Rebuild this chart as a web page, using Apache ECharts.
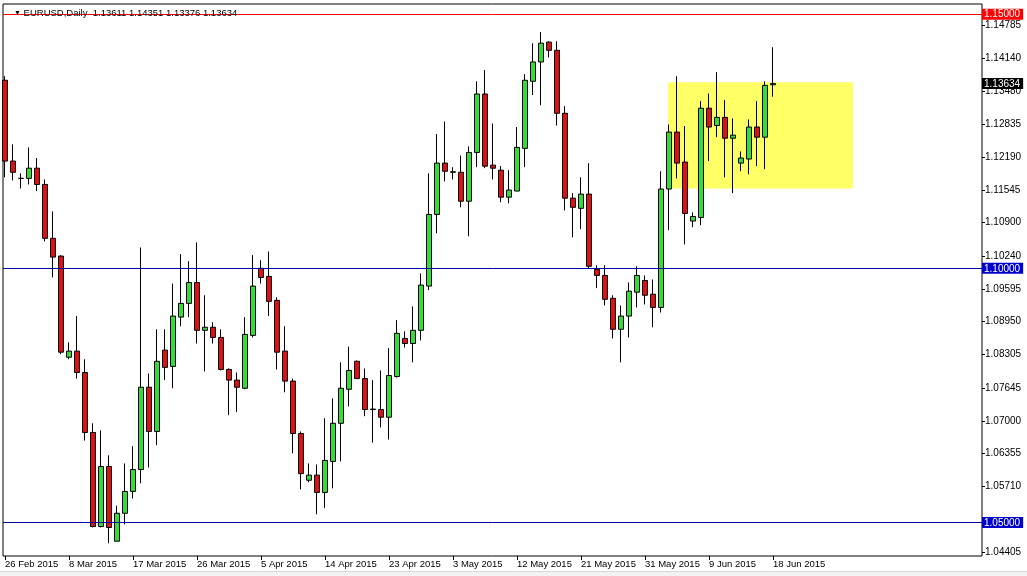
<!DOCTYPE html>
<html><head><meta charset="utf-8">
<script src="https://cdn.jsdelivr.net/npm/echarts@6/dist/echarts.min.js"></script>
<style>html,body{margin:0;padding:0;background:#fff;overflow:hidden}#c{width:1027px;height:576px}</style>
</head><body><div id="c"></div>
<script>
// ---- data ----
const symbolTitle = 'EURUSD,Daily';
const opens = [1.1370,1.1211,1.1177,1.1177,1.1197,1.1165,1.1059,1.1024,1.0825,1.0837,
1.0795,1.0677,1.0492,1.0610,1.0463,1.0518,1.0561,1.0604,1.0766,1.0679,
1.0839,1.0807,1.0904,1.0931,1.0972,1.0878,1.0884,1.0864,1.0801,1.0780,
1.0764,1.0868,1.1000,1.0984,1.0937,1.0837,1.0778,1.0675,1.0583,1.0593,
1.0559,1.0620,1.0695,1.0762,1.0817,1.0783,1.0722,1.0722,1.0707,1.0787,
1.0862,1.0852,1.0878,1.0965,1.1106,1.1207,1.1189,1.1189,1.1132,1.1228,
1.1343,1.1203,1.1193,1.1140,1.1152,1.1236,1.1368,1.1406,1.1445,1.1429,
1.1305,1.1138,1.1118,1.1146,1.0998,1.0986,1.0941,1.0880,1.0906,1.0953,
1.0976,1.0949,1.0923,1.1156,1.1268,1.1209,1.1093,1.1100,1.1315,1.1281,
1.1297,1.1256,1.1207,1.1215,1.1278,1.1258,1.13611];
const highs = [1.1378,1.1244,1.1187,1.1238,1.1217,1.1175,1.1112,1.1026,1.0854,1.0906,
1.0821,1.0695,1.0681,1.0632,1.0533,1.0616,1.0650,1.1041,1.0793,1.0880,
1.0880,1.0970,1.1028,1.1014,1.1051,1.0947,1.0894,1.0880,1.0803,1.0795,
1.0904,1.1026,1.1016,1.1033,1.0943,1.0886,1.0783,1.0679,1.0616,1.0614,
1.0705,1.0744,1.0815,1.0846,1.0819,1.0803,1.0780,1.0799,1.0843,1.0898,
1.0876,1.0925,1.0990,1.1187,1.1264,1.1289,1.1199,1.1222,1.1240,1.1368,
1.1390,1.1285,1.1201,1.1193,1.1278,1.1382,1.1443,1.1465,1.1447,1.1447,
1.1319,1.1148,1.1179,1.1207,1.1006,1.1006,1.0947,1.0927,1.0972,1.1004,
1.0986,1.0978,1.1191,1.1283,1.1378,1.1280,1.1110,1.1329,1.1344,1.1386,
1.1331,1.1295,1.1230,1.1293,1.1329,1.1368,1.14351];
const lows = [1.1179,1.1173,1.1157,1.1165,1.1152,1.1053,1.0982,1.0831,1.0821,1.0783,
1.0661,1.0490,1.0490,1.0459,1.0463,1.0496,1.0547,1.0577,1.0608,1.0652,
1.0780,1.0764,1.0886,1.0904,1.0852,1.0797,1.0852,1.0799,1.0711,1.0717,
1.0762,1.0864,1.0970,1.0906,1.0801,1.0756,1.0636,1.0565,1.0579,1.0516,
1.0528,1.0567,1.0620,1.0728,1.0783,1.0709,1.0657,1.0687,1.0663,1.0785,
1.0844,1.0815,1.0858,1.0957,1.1069,1.1171,1.1175,1.1120,1.1063,1.1199,
1.1197,1.1175,1.1130,1.1128,1.1152,1.1199,1.1341,1.1321,1.1415,1.1281,
1.1114,1.1061,1.1077,1.1000,1.0961,1.0927,1.0862,1.0815,1.0864,1.0923,
1.0929,1.0884,1.0913,1.1075,1.1177,1.1047,1.1081,1.1085,1.1211,1.1258,
1.1179,1.1148,1.1191,1.1185,1.1201,1.1195,1.13376];
const closes = [1.1211,1.1189,1.1177,1.1197,1.1165,1.1059,1.1022,1.0835,1.0837,1.0795,
1.0677,1.0492,1.0610,1.0490,1.0518,1.0561,1.0604,1.0766,1.0679,1.0817,
1.0805,1.0906,1.0931,1.0972,1.0878,1.0884,1.0864,1.0801,1.0780,1.0766,
1.0870,1.0965,1.0982,1.0935,1.0835,1.0778,1.0675,1.0596,1.0593,1.0559,
1.0622,1.0695,1.0764,1.0799,1.0783,1.0722,1.0723,1.0707,1.0789,1.0872,
1.0852,1.0878,1.0967,1.1106,1.1207,1.1191,1.1190,1.1132,1.1228,1.1343,
1.1201,1.1197,1.1140,1.1154,1.1238,1.1370,1.1406,1.1443,1.1429,1.1305,
1.1138,1.1120,1.1146,1.1004,1.0986,1.0939,1.0880,1.0906,1.0955,1.0986,
1.0947,1.0923,1.1156,1.1268,1.1207,1.1108,1.1102,1.1315,1.1278,1.1297,
1.1256,1.1262,1.1217,1.1278,1.1258,1.1360,1.13634];
const dateTickLabels = ['26 Feb 2015','8 Mar 2015','17 Mar 2015','26 Mar 2015','5 Apr 2015',
'14 Apr 2015','23 Apr 2015','3 May 2015','12 May 2015','21 May 2015','31 May 2015','9 Jun 2015','18 Jun 2015'];
const barsPerDateTick = 8;
const priceTicks = [1.14785,1.14140,1.13480,1.12835,1.12190,1.11545,1.10900,1.10240,
1.09595,1.08950,1.08305,1.07645,1.07000,1.06355,1.05710,1.04405];
const redLevels = [1.15];
const blueLevels = [1.10, 1.05];
const zoneBars = [82.875, 106];
const zonePrices = [1.1366, 1.1157];

// ---- chart ----
const FONT = "'Liberation Sans', Arial, sans-serif";
const candles = opens.map((o, i) => [i, o, closes[i], lows[i], highs[i]]);
const last = opens.length - 1;
const lastClose = closes[last];
const specials = [
  ...redLevels.map(v => ({v, s: 'red'})),
  ...blueLevels.map(v => ({v, s: 'blue'})),
  {v: lastClose, s: 'cur'}
];
const dateTickValues = dateTickLabels.map((_, k) => k * barsPerDateTick);

const chart = echarts.init(document.getElementById('c'), null, {renderer: 'canvas'});
chart.setOption({
  animation: false,
  backgroundColor: '#fff',
  title: {
    text: '{t|▼} ' + symbolTitle + '  ' + [opens[last], highs[last], lows[last], closes[last]].map(v => v.toFixed(5)).join(' '),
    left: 9, top: 3,
    textStyle: {
      fontFamily: FONT, fontSize: 9.5, fontWeight: 'normal', color: '#000',
      rich: {t: {fontSize: 7, color: '#000'}}
    }
  },
  graphic: [
    {type: 'rect', silent: true, z: -1, shape: {x: 0, y: 571, width: 1027, height: 5}, style: {fill: '#f2f2f2'}},
    {type: 'line', silent: true, z: -1, shape: {x1: 0, y1: 571.5, x2: 1027, y2: 571.5}, style: {stroke: '#d9d9d9', lineWidth: 1}}
  ],
  grid: {
    left: 3, right: 45, top: 4, bottom: 20,
    show: true, borderColor: '#000', borderWidth: 1, backgroundColor: '#fff'
  },
  xAxis: {
    type: 'value', min: -0.25, max: 122.125,
    axisLine: {show: false, onZero: false},
    splitLine: {show: false},
    axisTick: {show: true, customValues: dateTickValues, length: 4, lineStyle: {color: '#000'}},
    axisLabel: {
      customValues: dateTickValues, align: 'left', margin: 3,
      fontFamily: FONT, fontSize: 9.5, color: '#000',
      formatter: v => dateTickLabels[Math.round(v / barsPerDateTick)] || ''
    }
  },
  yAxis: {
    type: 'value', position: 'right', min: 1.043389, max: 1.152007, scale: true,
    axisLine: {show: false, onZero: false},
    splitLine: {show: false},
    axisTick: {show: true, customValues: priceTicks, length: 3, lineStyle: {color: '#000'}},
    axisLabel: {
      customValues: [...priceTicks, ...specials.map(s => s.v)],
      margin: 0, fontFamily: FONT, fontSize: 10, color: '#000',
      formatter: v => {
        const sp = specials.find(s => Math.abs(s.v - v) < 1e-7);
        return '{' + (sp ? sp.s : 'n') + '|' + v.toFixed(5) + '}';
      },
      rich: {
        n: {color: '#000', fontFamily: FONT, fontSize: 10, padding: [0, 0, 0, 3]},
        red: {color: '#fff', backgroundColor: '#ff0000', fontFamily: FONT, fontSize: 10, padding: [1, 3, 0, 2]},
        blue: {color: '#fff', backgroundColor: '#0000cd', fontFamily: FONT, fontSize: 10, padding: [1, 3, 0, 2]},
        cur: {color: '#fff', backgroundColor: '#000', fontFamily: FONT, fontSize: 10, padding: [1, 3, 0, 2]}
      }
    }
  },
  series: [
    {
      type: 'line', data: [], z: 1, silent: true,
      markArea: {
        silent: true,
        itemStyle: {color: '#ffff66', opacity: 1},
        label: {show: false},
        data: [[{coord: [zoneBars[0], zonePrices[0]]}, {coord: [zoneBars[1], zonePrices[1]]}]]
      }
    },
    {
      type: 'candlestick', z: 2, barWidth: 5,
      encode: {x: 0, y: [1, 2, 3, 4]},
      data: candles,
      itemStyle: {
        color: '#33dd33', color0: '#dd1111',
        borderColor: '#000', borderColor0: '#000', borderColorDoji: '#000', borderWidth: 1
      }
    },
    {
      type: 'line', data: [], z: 3, silent: true,
      markLine: {
        silent: true, symbol: ['none', 'none'], label: {show: false},
        data: [
          ...redLevels.map(v => ({yAxis: v, lineStyle: {color: '#ff0000', width: 1, type: 'solid'}})),
          ...blueLevels.map(v => ({yAxis: v, lineStyle: {color: '#0000a0', width: 1, type: 'solid'}}))
        ]
      }
    }
  ]
});
</script></body></html>
